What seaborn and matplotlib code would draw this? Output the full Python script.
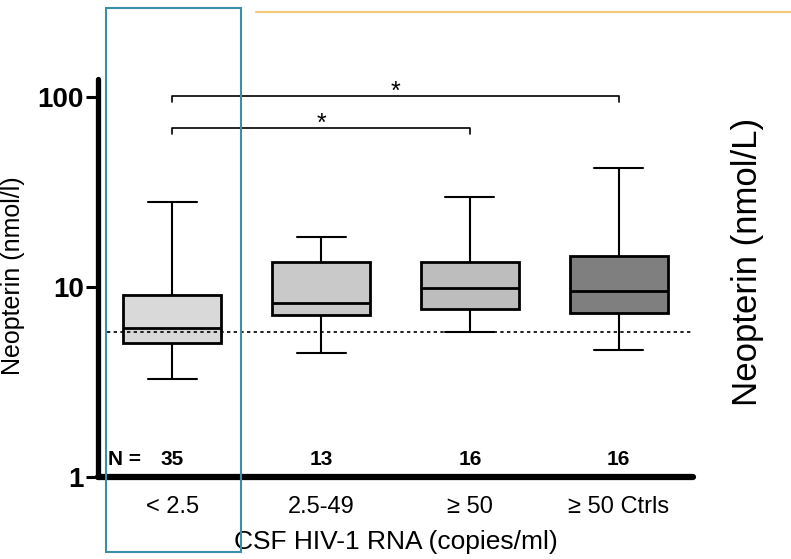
import numpy as np
import pandas as pd
import seaborn as sns
import matplotlib
matplotlib.use("Agg")
import matplotlib.pyplot as plt
from matplotlib.patches import Rectangle
from matplotlib.lines import Line2D

# ---- data ----
groups = ["< 2.5", "2.5-49", "≥ 50", "≥ 50 Ctrls"]
n_counts = [35, 13, 16, 16]
whisker_low = [3.27, 4.48, 5.77, 4.64]
q1 = [5.07, 7.12, 7.63, 7.27]
median = [6.1, 8.27, 9.88, 9.57]
q3 = [9.05, 13.5, 13.5, 14.6]
whisker_high = [28.1, 18.3, 29.6, 42.2]
reference_level = 5.77
sig_pairs = [(0, 2), (0, 3)]
sig_heights = [68.7, 101]
y_ticks = [1, 10, 100]
y_tick_labels = ["1", "10", "100"]
box_colors = ["#d9d9d9", "#c9c9c9", "#bdbdbd", "#7f7f7f"]

rows = []
for g, lo, a, m, b, hi in zip(groups, whisker_low, q1, median, q3, whisker_high):
    for v in (lo, a, m, b, hi):
        rows.append({"group": g, "value": v})
df = pd.DataFrame(rows)

sns.set_style("white")
plt.rcParams["font.family"] = ["Liberation Sans", "DejaVu Sans"]
plt.rcParams.update({
    "text.color": "black", "axes.labelcolor": "black",
    "xtick.color": "black", "ytick.color": "black",
    "axes.edgecolor": "black",
})

fig = plt.figure(figsize=(7.91, 5.59), dpi=100)
ax = fig.add_axes([98 / 791, 1 - 477 / 559, (693 - 98) / 791, (477 - 79) / 559])

sns.boxplot(
    data=df, x="group", y="value", hue="group", palette=box_colors,
    order=groups, hue_order=groups, width=0.66, whis=(0, 100),
    showfliers=False, legend=False, log_scale=True, ax=ax,
    boxprops=dict(edgecolor="black", linewidth=2.0),
    medianprops=dict(color="black", linewidth=2.0),
    whiskerprops=dict(color="black", linewidth=1.5),
    capprops=dict(color="black", linewidth=1.5),
)

ax.set_xlim(-0.5, 3.5)
ax.set_ylim(1, 124)

# dotted reference line
ax.axhline(reference_level, xmin=0.015, xmax=1.0, color="black", lw=1.2,
           linestyle=(0, (2, 2)), zorder=5)

# significance brackets
for (a, b), h in zip(sig_pairs, sig_heights):
    drop = h / 1.075
    ax.plot([a, a, b, b], [drop, h, h, drop], color="black", lw=1.2, clip_on=False)
    ax.text((a + b) / 2, h * 1.045, "*", ha="center", va="center", fontsize=18)

# N labels
ax.text(-0.43, 1.23, "N =", ha="left", va="center", fontsize=15, fontweight="bold")
for i, n in enumerate(n_counts):
    ax.text(i, 1.23, str(n), ha="center", va="center", fontsize=15, fontweight="bold")

# axes styling
for s in ["top", "right"]:
    ax.spines[s].set_visible(False)
ax.spines["left"].set_linewidth(3.8)
ax.spines["bottom"].set_linewidth(4.5)
ax.spines["left"].set_capstyle("round")
ax.spines["bottom"].set_capstyle("round")

ax.set_yticks(y_ticks)
ax.set_yticklabels(y_tick_labels, fontsize=20, fontweight="bold")
ax.yaxis.set_minor_locator(matplotlib.ticker.NullLocator())
ax.tick_params(axis="y", length=9, width=2.2, pad=1, left=True, color="black")
ax.tick_params(axis="x", length=0, pad=14, labelsize=17)

ax.set_xlabel("CSF HIV-1 RNA (copies/ml)", fontsize=19, labelpad=8)
ax.set_ylabel("Neopterin (nmol/l)", fontsize=18)
ax.yaxis.set_label_coords((25 - 98) / 595, (477 - 276) / 398)

# decoration outside the axes
fig.text(748 / 791, 1 - 262 / 559, "Neopterin (nmol/L)", rotation=90,
         ha="center", va="center", fontsize=25)
fig.add_artist(Rectangle((106 / 791, 1 - 552 / 559), 135 / 791, 544 / 559,
                         transform=fig.transFigure, fill=False,
                         edgecolor="#3a8ea7", lw=1.5))
fig.add_artist(Line2D([256 / 791, 1.0], [1 - 12 / 559, 1 - 12 / 559],
                      transform=fig.transFigure, color="#f5c677", lw=1.5))

fig.savefig("out.png", dpi=100)
